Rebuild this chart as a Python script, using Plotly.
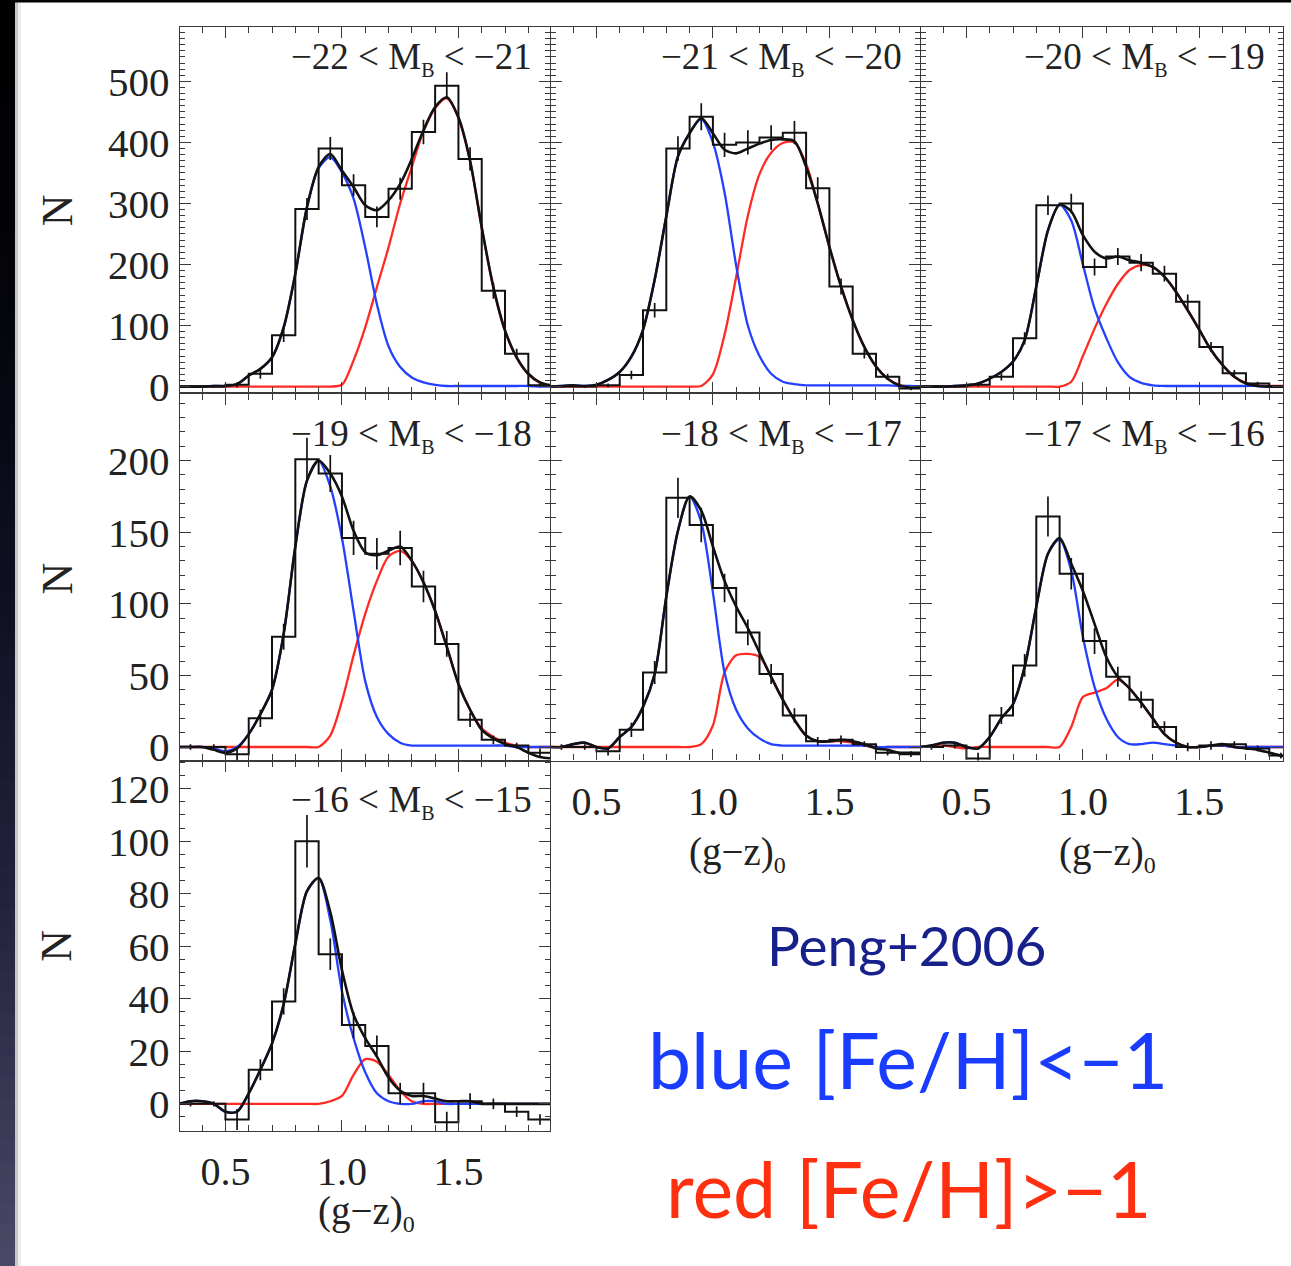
import plotly.graph_objects as go

W = 1291          # figure width (px)
REF_H = 1266      # height of the reference picture; positions below are given in its pixels
FIG_H = 1284      # figure height that fills the browser viewport

# ---------------- data ----------------
bin_edges = [0.3, 0.4, 0.5, 0.6, 0.7, 0.8, 0.9, 1.0, 1.1, 1.2, 1.3, 1.4, 1.5, 1.6, 1.7, 1.8, 1.9]
bin_centers = [0.35, 0.45, 0.55, 0.65, 0.75, 0.85, 0.95, 1.05, 1.15, 1.25, 1.35, 1.45, 1.55, 1.65, 1.75, 1.85]
curve_x = [0.30, 0.35, 0.40, 0.45, 0.50, 0.55, 0.60, 0.65, 0.70, 0.75, 0.80, 0.85, 0.90, 0.95, 1.00,
           1.05, 1.10, 1.15, 1.20, 1.25, 1.30, 1.35, 1.40, 1.45, 1.50, 1.55, 1.60, 1.65, 1.70, 1.75,
           1.80, 1.85, 1.90]

panel_titles = [
    ("\u221222", "\u221221"), ("\u221221", "\u221220"), ("\u221220", "\u221219"),
    ("\u221219", "\u221218"), ("\u221218", "\u221217"), ("\u221217", "\u221216"),
    ("\u221216", "\u221215"),
]

hist_p1 = [0, 0, 3, 21, 84, 291, 390, 330, 278, 324, 417, 493, 373, 157, 54, 2]
hist_p2 = [0, 0, 2, 19, 125, 390, 442, 396, 400, 408, 416, 325, 164, 54, 16, -3]
hist_p3 = [0, 0, 3, 16, 79, 297, 300, 196, 213, 203, 185, 139, 65, 22, 5, 0]
hist_p4 = [0, 0, -5, 20, 77, 201, 191, 146, 135, 139, 112, 72, 19, 5, 1, -4]
hist_p5 = [0, 0, -3, 12, 52, 174, 155, 111, 80, 51, 22, 4, 5, 2, -4, -5]
hist_p6 = [0, 1, -8, 22, 57, 161, 121, 74, 49, 33, 14, 0, 1, 2, -1, -6]
hist_p7 = [0, 0, -6, 13, 39, 100, 57, 30, 22, 4, 4, -7, 1, 0, -3, -6]

err_p1 = [2, 2, 4, 8, 11, 18, 19, 18, 17, 18, 20, 22, 19, 13, 8, 3]
err_p2 = [2, 2, 3, 7, 12, 20, 22, 20, 20, 20, 19, 18, 13, 8, 5, 3]
err_p3 = [2, 2, 3, 6, 10, 16, 16, 14, 14, 14, 13, 12, 8, 5, 3, 2]
err_p4 = [2, 2, 4, 6, 9, 15, 13, 12, 11, 12, 11, 9, 5, 3, 2, 3]
err_p5 = [2, 2, 3, 5, 8, 14, 12, 10, 9, 7, 5, 3, 3, 2, 2, 2]
err_p6 = [2, 2, 4, 6, 8, 14, 11, 9, 7, 6, 4, 3, 3, 2, 2, 2]
err_p7 = [1, 1, 4, 4, 5, 10, 6, 5, 4, 4, 4, 4, 3, 2, 2, 2]

total_p1 = [0, 0, 0, 1, 1, 4, 18, 29, 48, 97, 185, 294, 360, 381, 354, 327, 297, 289, 305, 332, 373,
            420, 458, 474, 441, 370, 261, 163, 92, 48, 21, 7, 2]
blue_p1 = [0, 0, 0, 1, 1, 4, 18, 29, 48, 97, 185, 294, 358, 376, 351, 308, 228, 135, 66, 32, 15, 7, 3,
           1, 1, 1, 1, 1, 1, 1, 1, 0, 0]
red_p1 = [0, 0, 0, 0, 0, 0, 0, 0, 0, 0, 0, 0, 0, 0, 3, 43, 97, 163, 228, 300, 360, 418, 456, 472, 440,
          369, 260, 162, 91, 47, 20, 6, 1]

total_p2 = [0, 1, 2, 1, 3, 11, 24, 49, 93, 175, 279, 377, 415, 440, 415, 388, 382, 390, 398, 404, 405,
            402, 360, 300, 229, 164, 109, 65, 33, 13, 2, -1, 0]
blue_p2 = [0, 1, 2, 1, 3, 11, 24, 49, 93, 175, 279, 377, 415, 438, 400, 318, 198, 100, 50, 21, 8, 4,
           2, 2, 2, 2, 2, 2, 2, 2, 1, 1, 0]
red_p2 = [0, 0, 0, 0, 0, 0, 0, 0, 0, 0, 0, 0, 0, 1, 20, 85, 180, 280, 348, 383, 399, 400, 365, 300,
          229, 164, 109, 65, 33, 13, 3, 0, 0]

total_p3 = [0, 0, 0, 1, 2, 5, 13, 24, 41, 76, 164, 256, 298, 287, 248, 221, 210, 213, 207, 203, 196,
            180, 155, 125, 93, 60, 35, 16, 5, 1, 0, 0, 0]
blue_p3 = [0, 0, 0, 1, 2, 5, 13, 24, 41, 76, 164, 256, 298, 272, 200, 128, 80, 40, 16, 6, 2, 1, 1, 1,
           1, 1, 1, 1, 1, 1, 0, 0, 0]
red_p3 = [0, 0, 0, 0, 0, 0, 0, 0, 0, 0, 0, 0, 0, 8, 50, 95, 135, 168, 191, 199, 196, 180, 155, 125, 93,
          60, 35, 16, 6, 2, 1, 1, 1]

total_p4 = [0, 0, 0, -2, -4, -1, 9, 23, 40, 79, 140, 186, 200, 191, 175, 151, 136, 134, 137, 140, 130,
            115, 95, 70, 44, 26, 12, 6, 2, 0, -4, -7, -8]
blue_p4 = [0, 0, 0, -1, -3, 0, 9, 23, 40, 79, 140, 186, 200, 182, 146, 95, 46, 21, 9, 3, 1, 1, 1, 1,
           1, 1, 1, 1, 1, 0, 0, 0, 0]
red_p4 = [0, 0, 0, 0, 0, 0, 0, 0, 0, 0, 0, 0, 0, 8, 32, 64, 93, 116, 133, 137, 130, 115, 95, 70, 44,
          26, 13, 7, 3, 1, 0, 0, 0]

total_p5 = [0, 0, 2, 3, 0, -1, 7, 14, 28, 51, 105, 151, 175, 165, 140, 116, 98, 83, 66, 49, 33, 19, 8,
            4, 4, 5, 4, 2, -1, -2, -4, -4, -4]
blue_p5 = [0, 0, 2, 3, 0, -1, 7, 14, 28, 51, 105, 151, 175, 157, 108, 52, 26, 13, 6, 2, 1, 1, 1, 1, 1,
           1, 1, 1, 0, 0, 0, 0, 0]
red_p5 = [0, 0, 0, 0, 0, 0, 0, 0, 0, 0, 0, 0, 0, 2, 15, 52, 64, 65, 63, 49, 33, 19, 8, 4, 4, 4, 3, 1,
          0, 0, 0, 0, 0]

total_p6 = [0, 1, 3, 3, 0, -1, 7, 20, 30, 56, 98, 135, 146, 128, 109, 86, 63, 49, 41, 31, 20, 9, 3, 0,
            0, 1, 2, 0, -1, -2, -4, -6, -7]
blue_p6 = [0, 1, 3, 3, 0, -1, 7, 20, 30, 56, 98, 135, 145, 123, 77, 42, 20, 7, 2, 2, 3, 2, 1, 0, 0, 1,
           1, 0, 0, 0, 0, 0, 0]
red_p6 = [0, 1, 1, 0, -1, 0, 0, 0, 0, 0, 0, 0, 0, 14, 35, 38, 41, 47, 41, 31, 20, 9, 3, 0, 0, 1, 1, 0,
          0, 0, 0, 0, 0]

total_p7 = [0, 1, 1, 0, -3, -3, 4, 13, 23, 38, 61, 81, 86, 73, 51, 34, 25, 18, 10, 5, 3, 3, 2, 1, 1, 1,
            0, 0, 0, 0, 0, 0, 0]
blue_p7 = [0, 1, 1, 0, -3, -3, 4, 13, 23, 38, 61, 81, 86, 70, 43, 25, 12, 4, 1, 0, 0, 1, 1, 0, 0, 0, 0,
           0, 0, 0, 0, 0, 0]
red_p7 = [0, 0, 0, 0, 0, 0, 0, 0, 0, 0, 0, 0, 0, 1, 3, 11, 17, 16, 11, 5, 1, 0, 0, 0, 0, 0, 0, 0, 0, 0,
          0, 0, 0]

y_tick_step = [100, 50, 20]
y_minor_step = [10, 10, 5]
x_tick_vals = [0.5, 1.0, 1.5]
x_tick_text = ["0.5", "1.0", "1.5"]

hists = [hist_p1, hist_p2, hist_p3, hist_p4, hist_p5, hist_p6, hist_p7]
errs = [err_p1, err_p2, err_p3, err_p4, err_p5, err_p6, err_p7]
totals = [total_p1, total_p2, total_p3, total_p4, total_p5, total_p6, total_p7]
blues = [blue_p1, blue_p2, blue_p3, blue_p4, blue_p5, blue_p6, blue_p7]
reds = [red_p1, red_p2, red_p3, red_p4, red_p5, red_p6, red_p7]

# ---------------- layout geometry (reference pixels) ----------------
# (left, right, top, bottom, x-range, y-range, row, show x labels, show y labels, title offset)
panels = [
    (180, 550, 27, 393, [0.305, 1.893], [-11, 589], 0, False, True, 7),
    (551, 920, 27, 393, [0.305, 1.889], [-11, 589], 0, False, False, 7),
    (921, 1283, 27, 393, [0.305, 1.859], [-11, 589], 0, False, False, 7),
    (180, 550, 393, 760, [0.305, 1.893], [-9.5, 247], 1, False, True, 18),
    (551, 920, 393, 760, [0.305, 1.889], [-9.5, 247], 1, True, False, 18),
    (921, 1283, 393, 760, [0.305, 1.859], [-9.5, 247], 1, True, False, 18),
    (180, 550, 760, 1130, [0.305, 1.893], [-10.3, 130.7], 2, True, True, 16),
]


def fx(p):
    return p / W


def fy(p):
    return 1 - p / REF_H


FRAME = "#3a3a3a"
SERIF = "Liberation Serif"
BLUE = "#2340ff"
RED = "#ff2b22"

fig = go.Figure()
layout = dict(
    width=W, height=FIG_H, margin=dict(l=0, r=0, t=0, b=0),
    paper_bgcolor="white", plot_bgcolor="white", showlegend=False,
)

annotations = []
for i, (l, r, t, b, xr, yr, row, xl, yl, toff) in enumerate(panels):
    n = i + 1
    xa = "x" if n == 1 else f"x{n}"
    ya = "y" if n == 1 else f"y{n}"
    xkey = "xaxis" if n == 1 else f"xaxis{n}"
    ykey = "yaxis" if n == 1 else f"yaxis{n}"
    layout[xkey] = dict(
        domain=[fx(l), fx(r)], range=xr, anchor=ya,
        showline=True, linecolor=FRAME, linewidth=1.4, mirror="allticks",
        ticks="inside", ticklen=11, tickwidth=1.3, tickcolor=FRAME,
        tickvals=x_tick_vals, ticktext=x_tick_text, showticklabels=xl,
        ticklabelstandoff=5,
        tickfont=dict(family=SERIF, size=40, color="#222"),
        minor=dict(ticks="inside", ticklen=6, tickwidth=1.1, tickcolor=FRAME, dtick=0.1, tick0=0),
        showgrid=False, zeroline=False, fixedrange=True,
    )
    layout[ykey] = dict(
        domain=[fy(b), fy(t)], range=yr, anchor=xa,
        showline=True, linecolor=FRAME, linewidth=1.4, mirror="allticks",
        ticks="inside", ticklen=11, tickwidth=1.3, tickcolor=FRAME,
        dtick=y_tick_step[row], tick0=0, showticklabels=yl,
        ticklabelstandoff=1,
        tickfont=dict(family=SERIF, size=41, color="#222"),
        minor=dict(ticks="inside", ticklen=5, tickwidth=1.0, tickcolor=FRAME,
                   dtick=y_minor_step[row], tick0=0),
        showgrid=False, zeroline=False, fixedrange=True,
    )

    # component curves
    fig.add_trace(go.Scatter(x=curve_x, y=reds[i], xaxis=xa, yaxis=ya, mode="lines",
                             line=dict(color=RED, width=2.3, shape="spline", smoothing=0.8)))
    fig.add_trace(go.Scatter(x=curve_x, y=blues[i], xaxis=xa, yaxis=ya, mode="lines",
                             line=dict(color=BLUE, width=2.3, shape="spline", smoothing=0.8)))
    # histogram (steps)
    fig.add_trace(go.Scatter(x=bin_edges, y=hists[i] + [hists[i][-1]], xaxis=xa, yaxis=ya,
                             mode="lines", line=dict(color="#111", width=2.0, shape="hv")))
    # error bars
    fig.add_trace(go.Scatter(x=bin_centers, y=hists[i], xaxis=xa, yaxis=ya, mode="markers",
                             marker=dict(size=1, color="rgba(0,0,0,0)"),
                             error_y=dict(type="data", array=errs[i], visible=True,
                                          width=0, thickness=1.7, color="#111")))
    # total density
    fig.add_trace(go.Scatter(x=curve_x, y=totals[i], xaxis=xa, yaxis=ya, mode="lines",
                             line=dict(color="#111", width=2.6, shape="spline", smoothing=0.8)))

    lo, hi = panel_titles[i]
    annotations.append(dict(
        xref="paper", yref="paper", x=fx(r - 16), y=fy(t + toff), xanchor="right", yanchor="top",
        text=f"{lo} &lt; M<sub><span style='font-size:20px'>B</span></sub> &lt; {hi}",
        showarrow=False,
        font=dict(family=SERIF, size=37, color="#222"),
    ))

# y titles
for yc in [210, 578, 945]:
    annotations.append(dict(xref="paper", yref="paper", x=fx(57), y=fy(yc), xanchor="center",
                            yanchor="middle", text="N", textangle=-90, showarrow=False,
                            font=dict(family=SERIF, size=44, color="#222")))
# x titles
for xc, yc in [(737, 853), (1107, 853), (367, 1212)]:
    annotations.append(dict(xref="paper", yref="paper", x=fx(xc), y=fy(yc), xanchor="center",
                            yanchor="middle",
                            text="(g\u2212z)<sub><span style='font-size:24px'>0</span></sub>",
                            showarrow=False,
                            font=dict(family=SERIF, size=39, color="#222")))

# slide texts
annotations.append(dict(xref="paper", yref="paper", x=fx(906), y=fy(944), xanchor="center",
                        yanchor="middle", text="Peng+2006", showarrow=False,
                        font=dict(family="Lato", size=55, color="#18208c")))
annotations.append(dict(xref="paper", yref="paper", x=fx(908), y=fy(1058), xanchor="center",
                        yanchor="middle", text="blue [Fe/H]&lt;\u22121", showarrow=False,
                        font=dict(family="Lato", size=77, color="#1a3cff")))
annotations.append(dict(xref="paper", yref="paper", x=fx(909), y=fy(1187), xanchor="center",
                        yanchor="middle", text="red [Fe/H]&gt;\u22121", showarrow=False,
                        font=dict(family="Lato", size=77, color="#ff3010")))
layout["annotations"] = annotations

# dark slide edge (left strip with vertical gradient) and top line
stops = [(0, (0, 0, 0)), (300, (4, 4, 10)), (600, (16, 16, 36)), (900, (34, 34, 62)), (1266, (74, 74, 104))]


def col_at(y):
    for (y0, c0), (y1, c1) in zip(stops[:-1], stops[1:]):
        if y0 <= y <= y1:
            f = (y - y0) / (y1 - y0)
            return tuple(int(round(a + (b_ - a) * f)) for a, b_ in zip(c0, c1))
    return stops[-1][1]


shapes = []
nb = 60
for k in range(nb):
    y0 = k * REF_H / nb
    y1 = (k + 1) * REF_H / nb + 2
    c = col_at((y0 + y1) / 2)
    shapes.append(dict(type="rect", xref="paper", yref="paper", x0=0, x1=fx(15),
                       y0=fy(min(y1, REF_H)), y1=fy(y0),
                       fillcolor=f"rgb{c}", line=dict(width=0), layer="above"))
shapes.append(dict(type="rect", xref="paper", yref="paper", x0=fx(15), x1=fx(18), y0=0, y1=1,
                   fillcolor="rgba(0,0,0,0.22)", line=dict(width=0), layer="above"))
shapes.append(dict(type="rect", xref="paper", yref="paper", x0=fx(18), x1=fx(21), y0=0, y1=1,
                   fillcolor="rgba(0,0,0,0.07)", line=dict(width=0), layer="above"))
shapes.append(dict(type="rect", xref="paper", yref="paper", x0=0, x1=1, y0=fy(2.5), y1=1,
                   fillcolor="black", line=dict(width=0), layer="above"))
layout["shapes"] = shapes

fig.update_layout(**layout)
fig.write_html(
    "out.html",
    post_script="document.body.style.margin='0';document.body.style.overflow='hidden';",
)
